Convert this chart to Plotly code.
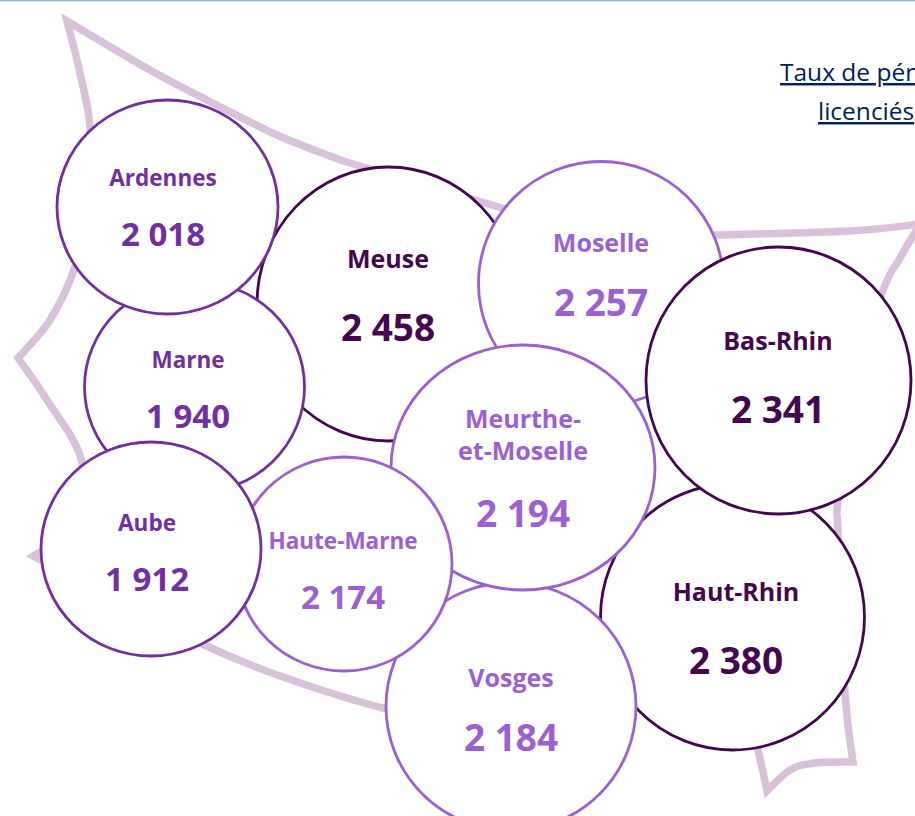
"""
bubble map of the Grand Est departments
"""

import plotly.graph_objects as go

departments = ["Meuse", "Moselle", "Marne", "Haut-Rhin", "Vosges", "Meurthe-<br>et-Moselle",
               "Haute-Marne", "Bas-Rhin", "Ardennes", "Aube"]
values = [2458, 2257, 1940, 2380, 2184, 2194, 2174, 2341, 2018, 1912]
header_lines = ["Taux de pénétration", "licenciés"]

# circle placement, listed from back to front
circle_x = [388.5, 601, 194.5, 732.5, 511, 523, 344, 778.5, 167.5, 151]
circle_y = [304, 283.5, 387, 617, 706.5, 467.5, 564, 380.5, 207, 549]
circle_rx = [131.5, 122.5, 110, 132, 125, 132, 108, 132.5, 110.5, 110]
circle_ry = [137, 122, 106, 133, 124, 122.5, 107, 133.5, 107, 107]
label_x = [388, 601, 188, 736, 511, 523, 343, 778, 163, 147]
label_y = [261.5, 245.5, 362, 594.5, 680.5, 437.5, 543.5, 343.5, 180, 525]
value_y = [332, 307, 419.5, 665, 742, 518, 600.5, 414, 237.5, 582.5]
tone = ["dark", "light", "mid", "dark", "light", "light", "light", "dark", "mid", "mid"]

colors = {"dark": "#44064F", "mid": "#7030A0", "light": "#9B60D2"}
value_sizes = [37, 37, 33, 37, 37, 37, 33, 37, 33, 33]
label_sizes = [25, 25, 22.5, 25, 25, 25, 22.5, 25, 22.5, 22.5]

# region outline, one list of points per edge between two sharp corners
outline_edges = [
    [(67, 21), (150, 70), (207, 100), (277, 135), (333, 157), (363, 167), (492, 205), (600, 238)],
    [(600, 238), (715, 235), (850, 231), (920, 224)],
    [(920, 224), (900, 258), (882, 293), (850, 400), (838, 500), (838, 533), (845, 693), (853, 762)],
    [(853, 762), (815, 763), (790, 770), (767, 791)],
    [(767, 791), (758, 750), (745, 700)],
    [(745, 700), (640, 690), (500, 730), (387, 709), (283, 677), (200, 643), (100, 590), (33, 556)],
    [(33, 556), (70, 530), (82, 463), (47, 400), (18, 358)],
    [(18, 358), (50, 320), (75, 267), (90, 200), (90, 127), (80, 73), (67, 21)],
]


def edge_path(points):
    """smooth path through the points of one edge (Catmull-Rom to cubic bezier)"""
    path = ""
    for i in range(len(points) - 1):
        p0 = points[max(i - 1, 0)]
        p1 = points[i]
        p2 = points[i + 1]
        p3 = points[min(i + 2, len(points) - 1)]
        c1 = (p1[0] + (p2[0] - p0[0]) / 6, p1[1] + (p2[1] - p0[1]) / 6)
        c2 = (p2[0] - (p3[0] - p1[0]) / 6, p2[1] - (p3[1] - p1[1]) / 6)
        path += f" C {c1[0]:.1f} {c1[1]:.1f} {c2[0]:.1f} {c2[1]:.1f} {p2[0]} {p2[1]}"
    return path


outline_path = f"M {outline_edges[0][0][0]} {outline_edges[0][0][1]}"
for edge in outline_edges:
    outline_path += edge_path(edge)
outline_path += " Z"

shapes = [dict(type="line", xref="x", yref="y", x0=0, x1=915, y0=0.5, y1=0.5,
               line=dict(color="#8DB3E2", width=1.5), layer="below"),
          dict(type="path", xref="x", yref="y", path=outline_path,
               line=dict(color="#D8C2D9", width=7.5), layer="below")]

for cx, cy, rx, ry, t in zip(circle_x, circle_y, circle_rx, circle_ry, tone):
    shapes.append(dict(type="circle", xref="x", yref="y",
                       x0=cx - rx, x1=cx + rx, y0=cy - ry, y1=cy + ry,
                       fillcolor="white", line=dict(color=colors[t], width=2.8), layer="below"))

tone_colors = [colors[t] for t in tone]
value_text = [f"{v:,}".replace(",", " ") for v in values]

fig = go.Figure()
fig.add_trace(go.Scatter(x=label_x, y=label_y, text=departments, mode="text",
                         textposition="middle center", hoverinfo="skip",
                         textfont=dict(family="Open Sans", size=label_sizes, color=tone_colors, weight="bold")))
fig.add_trace(go.Scatter(x=label_x, y=value_y, text=value_text, mode="text",
                         textposition="middle center", hoverinfo="skip",
                         textfont=dict(family="Open Sans", size=value_sizes, color=tone_colors, weight="bold")))

fig.add_annotation(x=778, y=71, xref="x", yref="y", text=header_lines[0], showarrow=False,
                   xanchor="left", yanchor="middle",
                   font=dict(family="Open Sans", size=24.5, color="#002060", lineposition="under"))
fig.add_annotation(x=816, y=110, xref="x", yref="y", text=header_lines[1], showarrow=False,
                   xanchor="left", yanchor="middle",
                   font=dict(family="Open Sans", size=24.5, color="#002060", lineposition="under"))

fig.update_layout(
    width=915,
    height=816,
    margin=dict(l=0, r=0, t=0, b=0),
    showlegend=False,
    paper_bgcolor="white",
    plot_bgcolor="white",
    shapes=shapes,
    xaxis=dict(range=[0, 915], visible=False, fixedrange=True),
    yaxis=dict(range=[816, 0], visible=False, fixedrange=True),
)

fig.write_html("out.html", config=dict(displayModeBar=False),
               post_script="document.body.style.margin='0';document.body.style.overflow='hidden';")
